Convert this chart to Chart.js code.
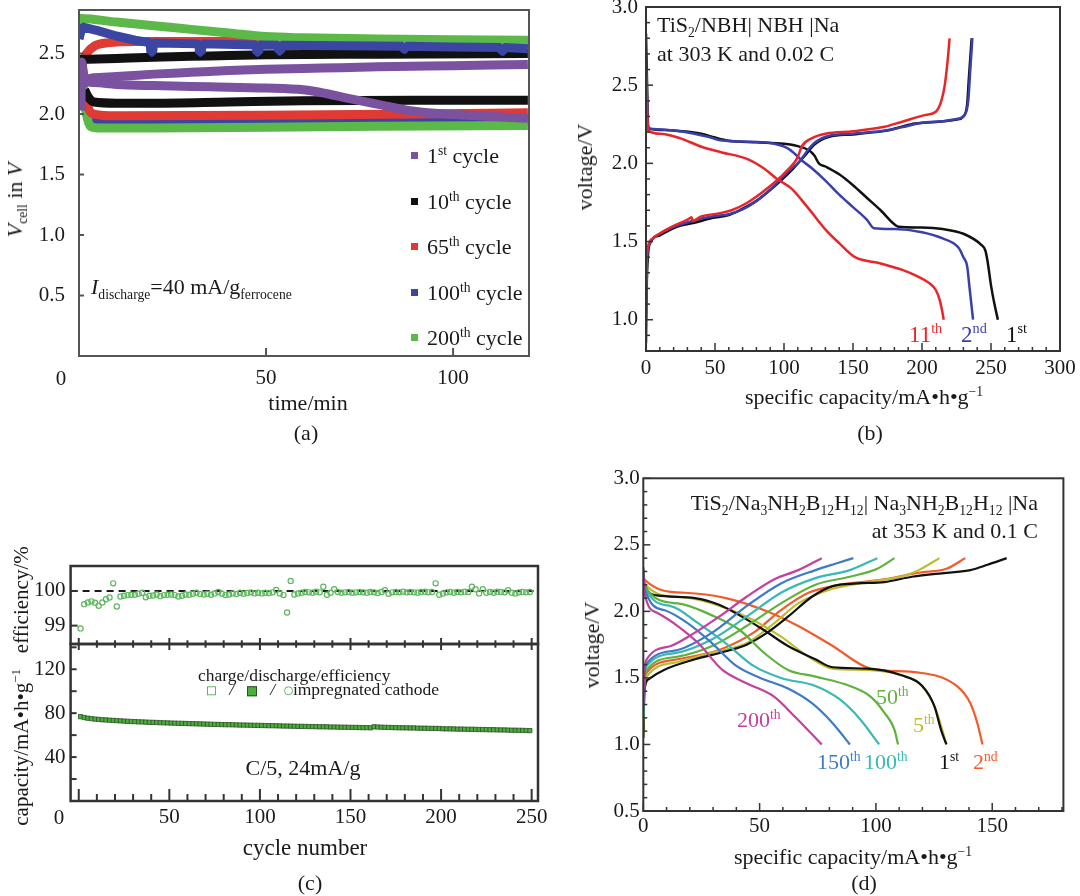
<!DOCTYPE html>
<html>
<head>
<meta charset="utf-8">
<script src="https://cdn.jsdelivr.net/npm/chart.js@4.4.1/dist/chart.umd.min.js"></script>
<style>
  body { margin: 0; background: #fff; }
  #wrap { position: relative; width: 1080px; height: 896px; overflow: hidden;
          font-family: "Liberation Serif", "Times New Roman", serif; color: #1a1a1a; }
  canvas { position: absolute; left: 0; top: 0; }
  .t { position: absolute; white-space: nowrap; font-size: 22px; line-height: 1; }
  .c { transform: translate(-50%, -50%); }
  .l { transform: translate(0, -50%); }
  .r { transform: translate(-100%, -50%); }
  .v { transform: translate(-50%, -50%) rotate(-90deg); }
  sub, sup { font-size: 0.62em; line-height: 0; }
  .sq { display: inline-block; width: 7px; height: 7px; vertical-align: middle; margin-right: 9px; position: relative; top: -2px; }
</style>
</head>
<body>
<div id="wrap">
  <canvas id="ca" width="1080" height="896"></canvas>
  <canvas id="cb" width="1080" height="896"></canvas>
  <canvas id="cc1" width="1080" height="896"></canvas>
  <canvas id="cc2" width="1080" height="896"></canvas>
  <canvas id="cd" width="1080" height="896"></canvas>

  <!-- (a) -->
  <div class="t v" style="left:15px;top:200px"><i>V</i><sub>cell</sub> in <i>V</i></div>
  <div class="t c" style="left:61px;top:378px;font-size:21px">0</div>
  <div class="t c" style="left:308px;top:403px">time/min</div>
  <div class="t c" style="left:306px;top:433px">(a)</div>
  <div class="t l" style="left:91px;top:287px"><i>I</i><sub>discharge</sub>=40 mA/g<sub>ferrocene</sub></div>
  <div class="t l" style="left:411px;top:156px"><span class="sq" style="background:#7b52a0"></span>1<sup>st</sup> cycle</div>
  <div class="t l" style="left:411px;top:202px"><span class="sq" style="background:#111"></span>10<sup>th</sup> cycle</div>
  <div class="t l" style="left:411px;top:247px"><span class="sq" style="background:#e03a35"></span>65<sup>th</sup> cycle</div>
  <div class="t l" style="left:411px;top:293px"><span class="sq" style="background:#3b46a3"></span>100<sup>th</sup> cycle</div>
  <div class="t l" style="left:411px;top:338px"><span class="sq" style="background:#5cb848"></span>200<sup>th</sup> cycle</div>

  <!-- (b) -->
  <div class="t v" style="left:585px;top:167px">voltage/V</div>
  <div class="t c" style="left:864px;top:397px">specific capacity/mA•h•g<sup>−1</sup></div>
  <div class="t c" style="left:870px;top:433px">(b)</div>
  <div class="t l" style="left:657px;top:25px">TiS<sub>2</sub>/NBH| NBH |Na</div>
  <div class="t l" style="left:657px;top:54px">at 303 K and 0.02 C</div>
  <div class="t l" style="left:909px;top:334px;font-size:23px;color:#e8262a">11<sup>th</sup></div>
  <div class="t l" style="left:961px;top:334px;font-size:23px;color:#3b3fae">2<sup>nd</sup></div>
  <div class="t l" style="left:1006px;top:334px;font-size:23px;color:#111">1<sup>st</sup></div>

  <!-- (c) -->
  <div class="t v" style="left:21px;top:686px;font-size:21px">capacity/mA•h•g<sup>−1</sup>&nbsp;&nbsp;&nbsp;efficiency/%</div>
  <div class="t c" style="left:59px;top:817px;font-size:21px">0</div>
  <div class="t c" style="left:305px;top:847px;font-size:23px">cycle number</div>
  <div class="t c" style="left:310px;top:883px">(c)</div>
  <div class="t l" style="left:198px;top:676px;font-size:17.5px">charge/discharge/efficiency</div>
  <div class="t l" style="left:207px;top:690px;font-size:17.5px">
    <span style="display:inline-block;width:7px;height:7px;border:1.3px solid #5cb85c;vertical-align:middle"></span>
    &nbsp;&nbsp;<i>/</i>&nbsp;&nbsp;
    <span style="display:inline-block;width:8px;height:8px;background:#4caf3a;border:1px solid #2f4f2a;vertical-align:middle"></span>
    &nbsp;&nbsp;<i>/</i>&nbsp;
    <span style="display:inline-block;width:7px;height:7px;border:1.3px solid #5cb85c;border-radius:50%;vertical-align:middle"></span>impregnated cathode</div>
  <div class="t c" style="left:303px;top:768px">C/5, 24mA/g</div>

  <!-- (d) -->
  <div class="t v" style="left:592px;top:645px">voltage/V</div>
  <div class="t c" style="left:853px;top:857px">specific capacity/mA•h•g<sup>−1</sup></div>
  <div class="t c" style="left:864px;top:883px">(d)</div>
  <div class="t r" style="left:1038px;top:503px">TiS<sub>2</sub>/Na<sub>3</sub>NH<sub>2</sub>B<sub>12</sub>H<sub>12</sub>| Na<sub>3</sub>NH<sub>2</sub>B<sub>12</sub>H<sub>12</sub> |Na</div>
  <div class="t r" style="left:1038px;top:531px">at 353 K and 0.1 C</div>
  <div class="t l" style="left:737px;top:720px;color:#c2409e">200<sup>th</sup></div>
  <div class="t l" style="left:876px;top:697px;color:#5fb33c">50<sup>th</sup></div>
  <div class="t l" style="left:913px;top:725px;color:#bdbd2e">5<sup>th</sup></div>
  <div class="t l" style="left:817px;top:762px;color:#3d7cc4">150<sup>th</sup></div>
  <div class="t l" style="left:864px;top:762px;color:#3ab8b3">100<sup>th</sup></div>
  <div class="t l" style="left:939px;top:762px;color:#111">1<sup>st</sup></div>
  <div class="t l" style="left:973px;top:762px;color:#f25c2a">2<sup>nd</sup></div>
</div>

<script>
// ---- (a) cell voltage vs time, [time/min, V] ----
const purpleCharge = [[0.5,2.03],[0.7,2.43],[1.5,2.29],[4,2.30],[10,2.31],[20,2.33],[30,2.345],[40,2.36],[50,2.37],[65,2.38],[80,2.39],[100,2.40],[120,2.41]];
const purpleDis = [[0.7,2.43],[1.5,2.28],[4,2.26],[10,2.245],[20,2.235],[35,2.225],[50,2.215],[60,2.20],[66,2.17],[72,2.13],[80,2.08],[88,2.03],[98,2.00],[110,1.98],[120,1.965]];
const blackCharge = [[0,2.45],[10,2.46],[20,2.47],[35,2.48],[50,2.49],[80,2.495],[120,2.50]];
const blackDis = [[1.5,2.20],[2.5,2.14],[4,2.10],[10,2.09],[20,2.09],[40,2.10],[60,2.11],[90,2.115],[120,2.115]];
const redCharge = [[0.5,2.40],[2,2.50],[4,2.56],[8,2.59],[15,2.60],[60,2.60],[120,2.60]];
const redDis = [[1.5,2.20],[2.5,2.05],[4,2.00],[10,1.985],[50,1.99],[90,2.00],[120,2.01]];
const blueCharge = [[0,2.62],[0.8,2.72],[5,2.69],[10,2.645],[15,2.61],[19,2.59],[19.2,2.51],[19.7,2.51],[19.9,2.588],[32,2.58],[32.2,2.51],[32.7,2.51],[32.9,2.58],[47.3,2.57],[47.5,2.51],[48,2.51],[48.2,2.57],[53.2,2.568],[53.4,2.52],[53.9,2.52],[54.1,2.568],[70,2.565],[86.5,2.56],[86.7,2.535],[87.2,2.535],[87.4,2.56],[100,2.555],[112.7,2.55],[112.9,2.52],[113.4,2.52],[113.6,2.55],[120,2.54]];
const blueDis = [[1,2.25],[1.8,2.05],[2.5,1.96],[4,1.945],[20,1.94],[60,1.94],[120,1.94]];
const greenCharge = [[0,2.62],[0.5,2.79],[10,2.76],[20,2.73],[30,2.70],[40,2.67],[50,2.64],[60,2.63],[80,2.62],[100,2.615],[120,2.61]];
const greenDis = [[1,2.22],[2,2.00],[3,1.90],[5,1.885],[20,1.885],[50,1.89],[80,1.90],[120,1.905]];

// ---- (b) TiS2/NBH, [capacity, V] ----
const b1Charge = [[0,0.85],[0.5,1.2],[1.5,1.42],[3,1.49],[10,1.54],[22.75,1.595],[35,1.62],[47.75,1.65],[60,1.67],[67.75,1.70],[80,1.76],[90,1.83],[97.75,1.89],[107,1.97],[115.25,2.05],[122,2.12],[132.75,2.17],[150,2.185],[165.25,2.20],[175,2.21],[185.25,2.235],[195,2.255],[210,2.265],[225.25,2.28],[230,2.30],[232.75,2.38],[234,2.55],[236,2.8]];
const b1Dis = [[0,2.83],[0.8,2.5],[1.5,2.24],[3,2.22],[20,2.21],[40,2.19],[50,2.165],[60,2.145],[80,2.135],[100,2.125],[110,2.11],[117.75,2.085],[122,2.05],[125.25,2.0],[130,1.98],[140,1.93],[150,1.86],[160,1.78],[170,1.70],[180,1.61],[183,1.595],[200,1.59],[215,1.58],[230,1.55],[242.75,1.48],[246,1.44],[247.75,1.36],[250,1.22],[252.5,1.1],[255,1.0]];
const b2Charge = [[0,1.15],[0.5,1.35],[1.5,1.45],[4,1.51],[10,1.55],[22,1.60],[35,1.635],[48,1.66],[60,1.675],[70,1.705],[80,1.76],[92,1.85],[102,1.94],[112,2.02],[116,2.07],[122,2.13],[132,2.175],[150,2.19],[170,2.205],[185,2.23],[200,2.26],[215,2.27],[226,2.285],[231,2.31],[233.5,2.4],[235,2.6],[236.5,2.8]];
const b2Dis = [[0,2.69],[0.8,2.4],[1.5,2.23],[5,2.22],[20,2.21],[35,2.19],[45,2.17],[52.75,2.15],[70,2.14],[90,2.13],[102.75,2.096],[108,2.06],[112.75,2.02],[120,1.97],[130,1.89],[140,1.80],[150,1.72],[160,1.64],[165.25,1.585],[180,1.58],[200,1.56],[215,1.52],[226.5,1.46],[230,1.40],[232.75,1.34],[234.5,1.2],[236,1.08],[237,1.0]];
const b11Charge = [[0,1.0],[0.5,1.35],[1.5,1.47],[5,1.52],[10.25,1.553],[20,1.60],[30,1.64],[33,1.655],[34,1.63],[36,1.64],[40,1.66],[52.75,1.68],[62,1.70],[72.75,1.745],[85,1.82],[97.75,1.915],[107,2.0],[110,2.04],[112.75,2.106],[120,2.16],[130.25,2.19],[150,2.205],[172.75,2.234],[185,2.265],[202.75,2.31],[210,2.33],[214,2.40],[216.5,2.5],[218.5,2.65],[220,2.8]];
const b11Dis = [[0,2.6],[0.8,2.35],[1.5,2.21],[10,2.19],[25,2.16],[40.25,2.106],[55,2.07],[72.75,2.03],[85,1.97],[95,1.90],[105.25,1.84],[117,1.72],[130.25,1.575],[140,1.49],[151.5,1.40],[170,1.36],[185.25,1.32],[196,1.28],[205.25,1.234],[210,1.19],[212.75,1.128],[214.5,1.06],[215.75,1.0]];

// ---- (c) cycling, impregnated cathode ----
const cycles = [1,3,5,7,9,11,13,15,17,19,21,23,25,27,29,31,33,35,37,39,41,43,45,47,49,51,53,55,57,59,61,63,65,67,69,71,73,75,77,79,81,83,85,87,89,91,93,95,97,99,101,103,105,107,109,111,113,115,117,119,121,123,125,127,129,131,133,135,137,139,141,143,145,147,149,151,153,155,157,159,161,163,165,167,169,171,173,175,177,179,181,183,185,187,189,191,193,195,197,199,201,203,205,207,209,211,213,215,217,219,221,223,225,227,229,231,233,235,237,239,241,243,245,247,249];
const efficiency = [98.92,99.62,99.67,99.70,99.66,99.57,99.67,99.76,99.81,100.22,99.55,99.84,99.86,99.88,99.89,99.89,99.92,99.95,99.82,99.86,
  99.87,99.90,99.85,99.88,99.89,99.90,99.88,99.84,99.86,99.90,99.89,99.92,99.95,99.91,99.90,99.92,99.89,99.93,99.97,99.92,
  99.88,99.90,99.93,99.91,99.95,99.92,99.94,99.96,99.93,99.95,99.93,99.95,99.94,99.96,100.03,99.93,99.88,99.38,100.29,99.90,
  99.93,99.95,99.97,99.96,99.95,99.98,99.96,100.12,99.89,99.95,100.05,99.97,99.95,99.96,99.97,99.95,99.96,99.97,99.96,99.95,
  99.97,99.96,99.94,99.97,100.02,99.92,99.96,99.97,99.96,99.98,99.96,99.97,99.96,99.95,99.97,99.98,99.96,99.97,100.22,99.89,
  99.93,99.96,99.97,99.95,99.97,99.96,99.98,99.97,100.12,100.05,99.93,100.05,99.95,99.97,99.95,99.98,99.97,99.96,100.02,99.95,
  99.93,99.96,99.97,99.96,99.97];
const capacity = [76.8,76.0,75.4,75.0,74.6,74.3,74.0,73.8,73.6,73.4,73.2,73.0,72.8,72.6,72.4,72.3,72.1,72.0,71.9,71.7,
  71.6,71.5,71.3,71.2,71.1,71.0,70.9,70.8,70.7,70.6,70.5,70.4,70.3,70.2,70.1,70.0,69.9,69.8,69.7,69.6,
  69.5,69.5,69.4,69.3,69.2,69.2,69.1,69.0,68.9,68.9,68.8,68.7,68.6,68.6,68.5,68.4,68.3,68.3,68.2,68.1,
  68.0,68.0,67.9,67.8,67.8,67.7,67.6,67.6,67.5,67.4,67.4,67.3,67.2,67.2,67.1,67.0,67.0,66.9,66.8,66.8,
  66.7,67.6,67.4,67.2,67.1,67.0,66.9,66.8,66.7,66.7,66.6,66.5,66.5,66.4,66.3,66.3,66.2,66.1,66.1,66.0,
  65.8,65.7,65.7,65.6,65.5,65.5,65.4,65.3,65.3,65.2,65.1,65.1,65.0,64.9,64.9,64.8,64.7,64.7,64.6,64.5,
  64.5,64.4,64.3,64.2,64.1];
const effRef = 100;

// ---- (d) TiS2/Na3NH2B12H12, [capacity, V] ----
const d1Charge = [[0,1.05],[0.5,1.40],[2.2,1.49],[8.9,1.56],[22.2,1.64],[35.5,1.70],[44.4,1.75],[53.3,1.84],[62.2,1.96],[72.5,2.11],[81.4,2.19],[91.8,2.21],[103.6,2.22],[115.5,2.26],[130.3,2.29],[140.6,2.31],[148,2.35],[156.2,2.40]];
const d1Dis = [[0,2.30],[0.5,2.20],[5.9,2.12],[22.2,2.10],[32.6,2.05],[41.4,1.97],[51.8,1.86],[62.2,1.74],[74,1.64],[81.4,1.58],[96.2,1.57],[111,1.52],[119.9,1.44],[125.1,1.29],[128,1.11],[130.3,1.0]];
const d2Charge = [[0,1.10],[0.5,1.45],[1.5,1.54],[14.8,1.64],[32.6,1.71],[47.4,1.84],[59.2,2.01],[71,2.14],[84.4,2.20],[103.6,2.24],[118.4,2.29],[130.3,2.32],[138.4,2.40]];
const d2Dis = [[0,2.33],[0.5,2.24],[17.8,2.14],[35.5,2.10],[51.8,2.01],[66.6,1.89],[81.4,1.74],[97.7,1.57],[118.4,1.54],[134.7,1.44],[140.6,1.31],[143.6,1.16],[145.8,1.0]];
const d5Charge = [[0,1.05],[0.5,1.42],[1.5,1.51],[14.8,1.62],[29.6,1.69],[44.4,1.76],[56.2,1.91],[66.6,2.06],[81.4,2.17],[96.2,2.22],[112.5,2.27],[118.4,2.31],[127.3,2.40]];
const d5Dis = [[0,2.32],[0.5,2.21],[14.8,2.11],[29.6,2.06],[44.4,1.96],[59.2,1.81],[71,1.66],[81.4,1.57],[96.2,1.56],[111,1.52],[119.9,1.44],[125.8,1.26],[130.3,1.0]];
const d50Charge = [[0,1.15],[0.5,1.46],[1.5,1.56],[14.8,1.66],[29.6,1.74],[44.4,1.89],[59.2,2.06],[74,2.20],[88.8,2.26],[100.6,2.32],[108,2.40]];
const d50Dis = [[0,2.30],[0.5,2.19],[14.8,2.06],[29.6,1.97],[41.4,1.86],[51.8,1.69],[62.2,1.56],[74,1.51],[88.8,1.44],[97.7,1.36],[103.6,1.24],[108,1.11],[109.5,1.0]];
const d100Charge = [[0,1.20],[0.5,1.49],[1.5,1.59],[14.8,1.69],[29.6,1.79],[44.4,1.96],[59.2,2.14],[74,2.25],[88.8,2.31],[100.6,2.40]];
const d100Dis = [[0,2.31],[0.5,2.19],[11.8,2.04],[23.7,1.91],[35.5,1.76],[47.4,1.59],[59.2,1.50],[74,1.44],[84.4,1.34],[93.2,1.19],[101.4,1.0]];
const d150Charge = [[0,1.25],[0.5,1.52],[1.5,1.61],[14.8,1.71],[29.6,1.84],[44.4,2.04],[59.2,2.21],[74,2.31],[82.9,2.36],[90.3,2.40]];
const d150Dis = [[0,2.33],[0.5,2.18],[8.9,2.01],[19.2,1.91],[29.6,1.76],[40,1.59],[50.3,1.50],[62.2,1.42],[72.5,1.31],[81.4,1.16],[88.8,1.0]];
const d200Charge = [[0,1.30],[0.5,1.55],[1.5,1.64],[11.8,1.74],[22.2,1.84],[32.6,1.96],[44.4,2.11],[56.2,2.24],[66.6,2.31],[76.7,2.40]];
const d200Dis = [[0,2.30],[0.5,2.14],[5.9,1.99],[14.8,1.89],[23.7,1.76],[34,1.56],[44.4,1.46],[56.2,1.36],[65.1,1.21],[76.7,1.0]];

// ---- helpers ----
Chart.defaults.font.family = '"Liberation Serif", "Times New Roman", serif';
Chart.defaults.color = '#1a1a1a';

const pts = arr => arr.map(([x, y]) => ({ x, y }));
const line = (data, color, width, extra) => Object.assign({ data: pts(data), borderColor: color, borderWidth: width, pointRadius: 0, fill: false }, extra || {});

// box outline plus inward tick marks, drawn from the scales
const framePlugin = {
  id: 'frame',
  afterDatasetsDraw(chart, args, o) {
    const { ctx, chartArea: a, scales } = chart;
    const seg = (x1, y1, x2, y2) => { ctx.beginPath(); ctx.moveTo(x1, y1); ctx.lineTo(x2, y2); ctx.stroke(); };
    const isMajor = (v, step) => Math.abs(v / step - Math.round(v / step)) < 1e-6;
    ctx.save();
    ctx.strokeStyle = o.color;
    ctx.lineWidth = o.tickWidth || 1.5;
    const x = scales.x, y = scales.y;
    if (o.xMajor) {
      const step = x.options.ticks.stepSize;
      x.ticks.forEach(t => {
        const p = x.getPixelForValue(t.value);
        seg(p, a.bottom, p, a.bottom - o.xMajor);
        if (o.topCross) seg(p, a.top - o.topCross[0], p, a.top + o.topCross[0]);
      });
      if (o.xMinor) {
        for (let i = Math.ceil(x.min / o.xMinor); i * o.xMinor <= x.max; i++) {
          const v = i * o.xMinor;
          if (isMajor(v, step)) continue;
          const p = x.getPixelForValue(v);
          seg(p, a.bottom, p, a.bottom - o.xMinorLen);
          if (o.topCross) seg(p, a.top - o.topCross[1], p, a.top + o.topCross[1]);
        }
      }
    }
    if (o.yMajor) {
      const step = y.options.ticks.stepSize;
      y.ticks.forEach(t => {
        const p = y.getPixelForValue(t.value);
        seg(a.left, p, a.left + o.yMajor, p);
      });
      if (o.yMinor) {
        for (let i = Math.ceil(y.min / o.yMinor - 1e-9); i * o.yMinor <= y.max + 1e-9; i++) {
          const v = i * o.yMinor;
          if (isMajor(v, step)) continue;
          const p = y.getPixelForValue(v);
          seg(a.left, p, a.left + o.yMinorLen, p);
        }
      }
    }
    ctx.lineWidth = o.width;
    ctx.strokeRect(a.left, a.top, a.right - a.left, a.bottom - a.top);
    ctx.restore();
  }
};

function ticks(step, pad, fmt, show) {
  return {
    stepSize: step, includeBounds: false, padding: pad, display: show !== false,
    font: { size: 21 }, color: '#1a1a1a', maxRotation: 0, autoSkip: false,
    callback: fmt
  };
}

function plot(id, box, xs, ys, datasets, frame) {
  const base = { type: 'linear', grid: { display: false, drawTicks: false }, border: { display: false } };
  const xAxis = Object.assign({}, base, xs, { position: 'bottom', afterFit: s => { s.height = 40; s.paddingLeft = 0; s.paddingRight = 0; } });
  const yAxis = Object.assign({}, base, ys, { position: 'left', afterFit: s => { s.width = 60; s.paddingTop = 0; s.paddingBottom = 0; } });
  return new Chart(document.getElementById(id), {
    type: 'line',
    data: { datasets },
    options: {
      responsive: false, animation: false, events: [],
      layout: { autoPadding: false, padding: { left: box.l - 60, top: box.t, right: 1080 - box.r, bottom: 896 - box.b - 40 } },
      scales: { x: xAxis, y: yAxis },
      elements: { line: { cubicInterpolationMode: 'monotone', borderCapStyle: 'butt' } },
      plugins: { legend: { display: false }, tooltip: { enabled: false }, frame }
    },
    plugins: [framePlugin]
  });
}

const oneDec = v => v.toFixed(1);

// (a)
plot('ca', { l: 79, t: 10, r: 529, b: 356 },
  { min: 0, max: 120.3, ticks: ticks(50, 9.5, v => v === 0 ? '' : v) },
  { min: 0, max: 2.86, ticks: ticks(0.5, 14, v => v === 0 ? '' : oneDec(v)) },
  [
    line(purpleDis, '#7b52a0', 9, { clip: 0 }),
    line(purpleCharge, '#7b52a0', 9, { clip: 0 }),
    line(blueCharge, '#3b46a3', 9, { clip: 0, cubicInterpolationMode: 'default', tension: 0, borderJoinStyle: 'bevel' }),
    line(blackCharge, '#111111', 9, { clip: 0 }),
    line(blackDis, '#111111', 9, { clip: 0 }),
    line(redDis, '#e03a35', 9, { clip: 0 }),
    line(greenDis, '#5cb848', 9, { clip: 0 }),
    line(blueDis, '#3b46a3', 9, { clip: 0 }),
    line(greenCharge, '#5cb848', 9, { clip: 0 }),
    line(redCharge, '#e03a35', 9, { clip: 0 })
  ],
  { color: '#555', width: 2, tickWidth: 2, xMajor: 8, yMajor: 5 });

// (b)
plot('cb', { l: 646, t: 7, r: 1060, b: 351 },
  { min: 0, max: 300, ticks: ticks(50, 4.7, v => v) },
  { min: 0.8, max: 3.0, ticks: ticks(0.5, 8, oneDec) },
  [
    line(b11Charge, '#e8262a', 2.5),
    line(b11Dis, '#e8262a', 2.5),
    line(b2Charge, '#3b3fae', 2.5),
    line(b2Dis, '#3b3fae', 2.5),
    line(b1Charge, '#111111', 2.5),
    line(b1Dis, '#111111', 2.5)
  ],
  { color: '#333', width: 2, tickWidth: 1.5, xMajor: 8, xMinor: 10, xMinorLen: 4, yMajor: 7, yMinor: 0.1, yMinorLen: 4 });

// (c) efficiency
plot('cc1', { l: 70.6, t: 566, r: 538, b: 644 },
  { min: -4.5, max: 253.5, ticks: ticks(50, 3, v => v, false) },
  { min: 98.47, max: 100.72, ticks: ticks(1, 5, v => v) },
  [
    { data: cycles.map((c, i) => ({ x: c, y: efficiency[i] })), showLine: false, pointStyle: 'circle',
      pointRadius: 2.6, pointBorderWidth: 1.2, pointBorderColor: '#5cb85c', pointBackgroundColor: 'rgba(0,0,0,0)' },
    { data: [{ x: -4.5, y: effRef }, { x: 253.5, y: effRef }], borderColor: '#1a1a1a', borderWidth: 2,
      borderDash: [7, 5], pointRadius: 0 }
  ],
  { color: '#333', width: 2.5, tickWidth: 2, yMajor: 7 });

// (c) capacity
plot('cc2', { l: 70.6, t: 644, r: 538, b: 801 },
  { min: -4.5, max: 253.5, ticks: ticks(50, 3.4, v => v === 0 ? '' : v) },
  { min: 0, max: 143, ticks: ticks(20, 5, v => (v === 40 || v === 80 || v === 120) ? v : '') },
  [
    { data: cycles.map((c, i) => ({ x: c, y: capacity[i] })), showLine: false, pointStyle: 'rect',
      pointRadius: 3, pointBorderWidth: 0.8, pointBorderColor: '#2f4f2a', pointBackgroundColor: '#4caf3a' }
  ],
  { color: '#333', width: 2.5, tickWidth: 2, xMajor: 12, xMinor: 10, xMinorLen: 7, topCross: [6, 3.7], yMajor: 6 });

// (d)
plot('cd', { l: 643.3, t: 478.3, r: 1063.4, b: 811 },
  { min: 0, max: 180.6, ticks: ticks(50, 3.1, v => v) },
  { min: 0.5, max: 3.0, ticks: ticks(0.5, 3.5, oneDec) },
  [
    line(d200Charge, '#c2409e', 2.2), line(d200Dis, '#c2409e', 2.2),
    line(d150Charge, '#3d7cc4', 2.2), line(d150Dis, '#3d7cc4', 2.2),
    line(d100Charge, '#3ab8b3', 2.2), line(d100Dis, '#3ab8b3', 2.2),
    line(d50Charge, '#5fb33c', 2.2), line(d50Dis, '#5fb33c', 2.2),
    line(d1Charge, '#111111', 2.2), line(d1Dis, '#111111', 2.2),
    line(d5Charge, '#bdbd2e', 2.2), line(d5Dis, '#bdbd2e', 2.2),
    line(d2Charge, '#f25c2a', 2.2), line(d2Dis, '#f25c2a', 2.2)
  ],
  { color: '#333', width: 2, tickWidth: 1.5, xMajor: 8, xMinor: 10, xMinorLen: 4, yMajor: 7, yMinor: 0.1, yMinorLen: 4 });
</script>
</body>
</html>
